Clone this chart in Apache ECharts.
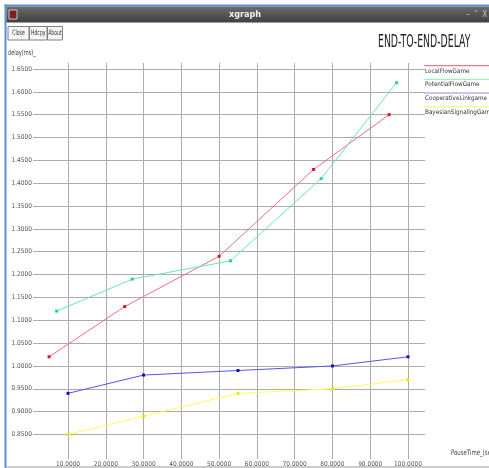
<!DOCTYPE html>
<html>
<head>
<meta charset="utf-8">
<title>END-TO-END-DELAY</title>
<script src="https://cdn.jsdelivr.net/npm/echarts@6/dist/echarts.min.js"></script>
<style>
  html, body { margin: 0; padding: 0; background: #ffffff; }
  #chart { width: 489px; height: 468px; }
</style>
</head>
<body>
<div id="chart"></div>
<script>
// Tick values
const xTicks = [10, 20, 30, 40, 50, 60, 70, 80, 90, 100];
const yTicks = [0.85, 0.90, 0.95, 1.00, 1.05, 1.10, 1.15, 1.20, 1.25, 1.30,
                1.35, 1.40, 1.45, 1.50, 1.55, 1.60, 1.65];

// Series names
const seriesNames = ['LocalFlowGame', 'PotentialFlowGame', 'CooperativeLinkgame', 'BayesianSignalingGame'];

// Pause time (x) and delay (y) of each series
const localFlowX = [5, 25, 50, 75, 95];
const localFlowY = [1.02, 1.13, 1.24, 1.43, 1.55];
const potentialFlowX = [7, 27, 53, 77, 97];
const potentialFlowY = [1.12, 1.19, 1.23, 1.41, 1.62];
const cooperativeX = [10, 30, 55, 80, 100];
const cooperativeY = [0.94, 0.98, 0.99, 1.00, 1.02];
const bayesianX = [10, 30, 55, 80, 100];
const bayesianY = [0.85, 0.89, 0.94, 0.95, 0.97];

const xsList = [localFlowX, potentialFlowX, cooperativeX, bayesianX];
const ysList = [localFlowY, potentialFlowY, cooperativeY, bayesianY];

const lineColors = ['#ef6f7c', '#6ae8b0', '#5555e6', '#ffff5c'];
const markColors = ['#e0102a', '#1ed888', '#1010c8', '#e6e600'];
const keyColors = ['#f07c8a', '#9cf0c8', '#8c8cf0', '#ffff7a'];

const narrow = '"DejaVu Sans Condensed", "Liberation Sans Narrow", sans-serif';

const chart = echarts.init(document.getElementById('chart'), null, { renderer: 'canvas' });

const dataSeries = seriesNames.map((name, k) => ({
  name: name,
  type: 'line',
  data: xsList[k].map((x, i) => [x, ysList[k][i]]),
  symbol: 'rect',
  symbolSize: 3,
  showSymbol: true,
  lineStyle: { color: lineColors[k], width: 1 },
  itemStyle: { color: markColors[k] },
  z: 10,
  animation: false
}));

// Grid lines at the tick values
const gridSeries = {
  type: 'line',
  data: [],
  silent: true,
  z: 1,
  markLine: {
    silent: true,
    z: 1,
    animation: false,
    symbol: ['none', 'none'],
    label: { show: false },
    lineStyle: { color: '#ababab', width: 1, type: 'solid' },
    emphasis: { disabled: true },
    data: xTicks.map(v => ({ xAxis: v })).concat(yTicks.map(v => ({ yAxis: v })))
  }
};

// Key lines drawn above each legend entry
const keyTop = 65;
const keyStep = 13.7;
const keyLines = seriesNames.map((n, k) => ({
  type: 'rect',
  shape: { x: 424, y: keyTop + k * keyStep, width: 70, height: 1.2 },
  style: { fill: keyColors[k] },
  silent: true
}));

const buttons = [
  { label: 'Close', x: 8, w: 21 },
  { label: 'Hdcpy', x: 29.5, w: 17.5 },
  { label: 'About', x: 47.5, w: 15 }
];
const buttonEls = [];
buttons.forEach(b => {
  buttonEls.push({
    type: 'rect',
    shape: { x: b.x, y: 26.5, width: b.w, height: 13.5 },
    style: { fill: '#f6f6f6', stroke: '#808080', lineWidth: 1 },
    silent: true
  });
  buttonEls.push({
    type: 'text',
    x: b.x + b.w / 2,
    y: 33.5,
    scaleX: 0.68,
    style: { text: b.label, fontSize: 7.5, fontFamily: narrow, fill: '#333', align: 'center', verticalAlign: 'middle' },
    silent: true
  });
});

chart.setOption({
  backgroundColor: '#ffffff',
  animation: false,
  grid: { left: 33, right: 64, top: 63, bottom: 8, containLabel: false },
  xAxis: {
    type: 'value',
    min: 0.735,
    max: 104.5,
    axisLine: { show: false },
    axisTick: { show: false },
    splitLine: { show: false },
    axisLabel: {
      customValues: xTicks,
      formatter: v => v.toFixed(4),
      fontSize: 6.5,
      fontFamily: narrow,
      color: '#555',
      margin: 2
    }
  },
  yAxis: {
    type: 'value',
    min: 0.7963,
    max: 1.6631,
    axisLine: { show: false },
    axisTick: { show: false },
    splitLine: { show: false },
    axisLabel: {
      customValues: yTicks,
      formatter: v => v.toFixed(4),
      fontSize: 6.5,
      fontFamily: narrow,
      color: '#555',
      margin: 1
    }
  },
  legend: {
    data: seriesNames,
    orient: 'vertical',
    left: 419,
    top: 66.5,
    itemWidth: 0,
    itemHeight: 0,
    itemGap: 4.7,
    padding: 0,
    textStyle: { fontSize: 6.3, fontFamily: narrow, color: '#333', lineHeight: 9 }
  },
  series: [gridSeries].concat(dataSeries),
  graphic: [
    // window frame
    { type: 'rect', shape: { x: 4.5, y: 4.5, width: 485, height: 2 }, style: { fill: '#5d8fd8' }, silent: true },
    { type: 'rect', shape: { x: 4.5, y: 4.5, width: 2, height: 464 }, style: { fill: '#5d8fd8' }, silent: true },
    {
      type: 'rect',
      shape: { x: 6.5, y: 6.5, width: 483, height: 16 },
      style: {
        fill: new echarts.graphic.LinearGradient(0, 0, 0, 1, [
          { offset: 0, color: '#6c6c6c' },
          { offset: 1, color: '#3f3f3f' }
        ])
      },
      silent: true
    },
    { type: 'rect', shape: { x: 9, y: 10, width: 8, height: 9 }, style: { fill: '#7a2020', stroke: '#c8c8c8', lineWidth: 1 }, silent: true },
    {
      type: 'text', x: 245, y: 15,
      style: { text: 'xgraph', fontSize: 9, fontWeight: 'bold', fontFamily: narrow, fill: '#f2f2f2', align: 'center', verticalAlign: 'middle' },
      silent: true
    },
    {
      type: 'text', x: 466, y: 14.5,
      style: { text: '–  ˅  X', fontSize: 8, fontFamily: narrow, fill: '#c4c4c4', verticalAlign: 'middle' },
      silent: true
    },
    { type: 'rect', shape: { x: 6.5, y: 466.5, width: 483, height: 1 }, style: { fill: '#9a9a9a' }, silent: true },
    // chart title
    {
      type: 'text', x: 378, y: 42.5, scaleX: 0.61, scaleY: 1,
      style: { text: 'END-TO-END-DELAY', fontSize: 17, fontFamily: narrow, fill: '#222', verticalAlign: 'middle' },
      silent: true
    },
    // axis names
    {
      type: 'text', x: 8, y: 53.5, scaleX: 0.75,
      style: { text: 'delay(ms)_', fontSize: 7.5, fontFamily: narrow, fill: '#444', verticalAlign: 'middle' },
      silent: true
    },
    {
      type: 'text', x: 451, y: 453.5, scaleX: 0.8,
      style: { text: 'PauseTime_(sec)', fontSize: 7.5, fontFamily: narrow, fill: '#444', verticalAlign: 'middle' },
      silent: true
    }
  ].concat(buttonEls).concat(keyLines)
});
</script>
</body>
</html>
